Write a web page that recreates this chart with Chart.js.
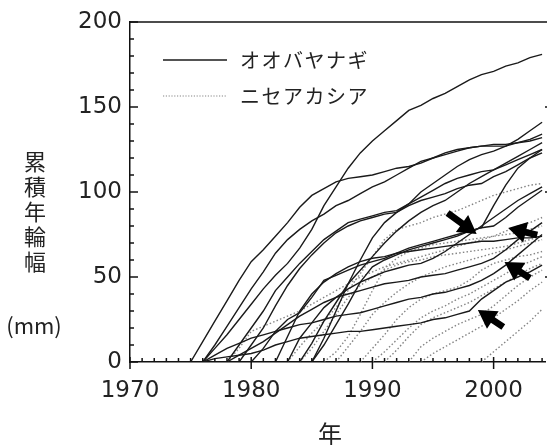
<!DOCTYPE html>
<html>
<head>
<meta charset="utf-8">
<title>累積年輪幅</title>
<script src="https://cdn.jsdelivr.net/npm/chart.js"></script>
<style>
  html, body { margin: 0; padding: 0; background: #fff; }
  #wrap { width: 547px; height: 445px; }
</style>
</head>
<body>
<div id="wrap"><canvas id="chart" width="547" height="445"></canvas></div>
<script>
// オオバヤナギ: first year of each series, then cumulative ring width (mm) per year
const oobaStart = [1976, 1975, 1976, 1985, 1984, 1985, 1978, 1979, 1980, 1982, 1978, 1983, 1976, 1976];
const ooba1 = [0, 8, 16, 25, 34, 43, 51, 58, 67, 78, 92, 103, 114, 123, 130, 136, 142, 148, 151, 155, 158, 162, 166, 169, 171, 174, 176, 179, 181];
const ooba2 = [0, 12, 24, 36, 48, 59, 66, 74, 82, 91, 98, 102, 106, 108, 109, 110, 112, 114, 115, 117, 120, 123, 125, 126, 127, 127, 127, 129, 131, 134];
const ooba3 = [0, 10, 21, 32, 43, 53, 64, 72, 78, 83, 87, 92, 95, 99, 103, 106, 110, 114, 118, 120, 122, 124, 126, 127, 128, 128, 129, 130, 132];
const ooba4 = [0, 14, 30, 46, 60, 73, 82, 88, 93, 100, 105, 110, 115, 119, 122, 124, 127, 131, 136, 141];
const ooba5 = [0, 11, 24, 35, 46, 54, 62, 70, 77, 83, 88, 92, 95, 100, 105, 109, 113, 117, 121, 125, 129];
const ooba6 = [0, 10, 22, 34, 47, 56, 60, 63, 66, 68, 70, 72, 74, 77, 79, 92, 104, 114, 120, 125];
const ooba7 = [0, 10, 20, 30, 42, 50, 58, 65, 72, 77, 82, 84, 86, 88, 89, 93, 97, 101, 105, 108, 110, 112, 113, 116, 119, 122, 125];
const ooba8 = [0, 10, 20, 33, 45, 55, 63, 70, 76, 80, 83, 85, 87, 88, 92, 95, 97, 99, 102, 104, 105, 109, 112, 116, 120, 123];
const ooba9 = [0, 8, 18, 25, 29, 38, 48, 51, 54, 57, 59, 61, 64, 67, 69, 71, 73, 75, 77, 79, 80, 85, 91, 96, 101];
const ooba10 = [0, 15, 30, 40, 47, 52, 56, 59, 61, 62, 64, 65, 66, 67, 68, 69, 70, 71, 71, 72, 73, 73, 74];
const ooba11 = [0, 4, 8, 12, 17, 22, 27, 31, 35, 38, 40, 42, 44, 46, 47, 48, 50, 51, 52, 54, 56, 58, 61, 66, 72, 77, 82];
const ooba12 = [0, 14, 23, 32, 38, 43, 47, 50, 53, 55, 57, 58, 61, 65, 70, 75, 80, 85, 90, 95, 99, 103];
const ooba13 = [0, 4, 8, 11, 14, 16, 18, 20, 22, 23, 25, 27, 28, 29, 31, 33, 35, 37, 38, 40, 41, 43, 45, 48, 52, 57, 63, 69, 75];
const ooba14 = [0, 2, 3, 4, 5, 7, 10, 12, 14, 15, 16, 17, 18, 18, 19, 20, 21, 22, 23, 25, 26, 28, 30, 37, 42, 47, 50, 53, 57];

// ニセアカシア
const niseStart = [1983, 1978, 1986, 1987, 1989, 1990, 1991, 1993, 1994, 1999, 1984];
const nise1 = [0, 9, 17, 24, 32, 42, 52, 62, 72, 78, 80, 82, 85, 87, 89, 92, 95, 98, 100, 102, 104, 105];
const nise2 = [0, 8, 18, 21, 24, 27, 30, 34, 38, 42, 46, 50, 53, 56, 58, 60, 62, 64, 66, 68, 70, 72, 74, 77, 80, 82, 85];
const nise3 = [0, 6, 15, 28, 42, 55, 61, 65, 67, 69, 70, 71, 72, 73, 74, 75, 76, 78, 80];
const nise4 = [0, 9, 18, 28, 35, 41, 46, 50, 53, 56, 58, 60, 62, 64, 66, 68, 70, 72];
const nise5 = [0, 8, 16, 25, 32, 37, 40, 42, 44, 48, 54, 58, 60, 62, 63, 65];
const nise6 = [0, 6, 13, 20, 26, 30, 33, 37, 40, 44, 48, 52, 56, 59, 62];
const nise7 = [0, 7, 15, 22, 26, 29, 32, 35, 39, 43, 47, 51, 55, 58];
const nise8 = [0, 9, 14, 18, 22, 25, 28, 33, 39, 45, 50, 54];
const nise9 = [0, 5, 9, 13, 17, 21, 26, 31, 36, 42, 47];
const nise10 = [0, 6, 12, 18, 24, 31];
const nise11 = [0, 8, 18, 28, 38, 45, 50, 54, 57, 59, 60, 62, 63, 64, 65, 66, 67, 68, 70, 72, 74];

// arrows: tail and tip as [year, mm]
const arrowTail = [[1996.2, 87.6], [2003.6, 74.7], [2003.0, 49.4], [2000.8, 20.6]];
const arrowTip = [[1998.6, 75.3], [2001.2, 78.8], [2000.9, 58.8], [1998.7, 30.6]];

const xTicks = [1970, 1980, 1990, 2000];
const yTicks = [0, 50, 100, 150, 200];

const oobaSeries = [ooba1, ooba2, ooba3, ooba4, ooba5, ooba6, ooba7, ooba8, ooba9, ooba10, ooba11, ooba12, ooba13, ooba14];
const niseSeries = [nise1, nise2, nise3, nise4, nise5, nise6, nise7, nise8, nise9, nise10, nise11];

const datasets = [];
oobaSeries.forEach((vals, k) => {
  datasets.push({
    label: 'オオバヤナギ',
    data: vals.map((v, i) => ({ x: oobaStart[k] + i, y: v })),
    borderColor: '#1a1a1a', borderWidth: 1.4, pointRadius: 0, tension: 0, fill: false
  });
});
niseSeries.forEach((vals, k) => {
  datasets.push({
    label: 'ニセアカシア',
    data: vals.map((v, i) => ({ x: niseStart[k] + i, y: v })),
    borderColor: '#858585', borderWidth: 1.4, borderDash: [1.5, 2.2], pointRadius: 0, tension: 0, fill: false
  });
});

function seg(ctx, x0, y0, x1, y1) {
  ctx.beginPath(); ctx.moveTo(x0, y0); ctx.lineTo(x1, y1); ctx.stroke();
}

function arrow(ctx, x0, y0, x1, y1) {
  const ang = Math.atan2(y1 - y0, x1 - x0);
  const len = Math.hypot(x1 - x0, y1 - y0);
  const head = 18, hw = 10.5, sw = 3.4;
  ctx.save();
  ctx.translate(x0, y0);
  ctx.rotate(ang);
  ctx.beginPath();
  ctx.moveTo(0, -sw);
  ctx.lineTo(len - head, -sw);
  ctx.lineTo(len - head, -hw);
  ctx.lineTo(len, 0);
  ctx.lineTo(len - head, hw);
  ctx.lineTo(len - head, sw);
  ctx.lineTo(0, sw);
  ctx.closePath();
  ctx.fillStyle = '#000';
  ctx.fill();
  ctx.restore();
}

const decor = {
  id: 'decor',
  afterDraw(chart) {
    const { ctx, chartArea: a, scales: { x, y } } = chart;
    ctx.save();
    ctx.strokeStyle = '#111';
    ctx.lineWidth = 1.5;
    seg(ctx, a.left, a.top, a.right + 2, a.top);
    for (let v = 0; v <= 200; v += 10) {
      const py = y.getPixelForValue(v);
      seg(ctx, a.left, py, a.left + (v % 50 ? 4 : 8), py);
      if (v % 50 === 0 && v > 0 && v < 200) seg(ctx, a.right, py, a.right + 3, py);
    }
    for (let yr = 1970; yr <= 2004; yr++) {
      const px = x.getPixelForValue(yr);
      if (yr % 10) seg(ctx, px, a.bottom, px, a.bottom - 4);
      else seg(ctx, px, a.bottom - 5, px, a.bottom + 7);
    }

    arrowTail.forEach((t, i) => {
      arrow(ctx, x.getPixelForValue(t[0]), y.getPixelForValue(t[1]),
        x.getPixelForValue(arrowTip[i][0]), y.getPixelForValue(arrowTip[i][1]));
    });

    // legend
    ctx.lineWidth = 1.5;
    ctx.strokeStyle = '#1a1a1a';
    seg(ctx, 163, 60, 227, 60);
    ctx.strokeStyle = '#858585';
    ctx.lineWidth = 1.2;
    ctx.setLineDash([1.2, 1.6]);
    seg(ctx, 163, 96, 227, 96);
    ctx.setLineDash([]);
    ctx.fillStyle = '#222';
    ctx.textAlign = 'left';
    ctx.textBaseline = 'middle';
    ctx.font = '20px "Noto Sans CJK JP"';
    ctx.letterSpacing = '1.5px';
    ctx.fillText('オオバヤナギ', 240, 60);
    ctx.fillText('ニセアカシア', 240, 96);
    ctx.letterSpacing = '0px';

    // axis titles
    ctx.textAlign = 'center';
    ctx.font = '22px "Noto Sans CJK JP"';
    [...'累積年輪幅'].forEach((ch, i) => ctx.fillText(ch, 35, 162 + 25 * i));
    ctx.font = '22px "Noto Sans CJK JP"';
    ctx.fillText('(mm)', 34, 326);
    ctx.font = '24px "Noto Sans CJK JP"';
    ctx.fillText('年', 330, 434);
    ctx.restore();
  }
};

new Chart(document.getElementById('chart').getContext('2d'), {
  type: 'line',
  data: { datasets },
  plugins: [decor],
  options: {
    responsive: false,
    animation: false,
    events: [],
    layout: { padding: { left: 0, right: 2, top: 22, bottom: 0 } },
    plugins: { legend: { display: false }, tooltip: { enabled: false } },
    scales: {
      x: {
        type: 'linear', min: 1970, max: 2004.24,
        afterFit: s => { s.height = 83; },
        grid: { display: false, drawTicks: false },
        border: { display: true, color: '#111', width: 1.5 },
        afterBuildTicks: s => { s.ticks = xTicks.map(v => ({ value: v })); },
        ticks: {
          autoSkip: false, maxRotation: 0, padding: 15,
          color: '#222', font: { family: 'DejaVu Sans', size: 23 },
          callback: v => String(v)
        }
      },
      y: {
        type: 'linear', min: 0, max: 200,
        afterFit: s => { s.width = 130; },
        grid: { display: false, drawTicks: false },
        border: { display: true, color: '#111', width: 1.5 },
        afterBuildTicks: s => { s.ticks = yTicks.map(v => ({ value: v })); },
        ticks: {
          padding: 8, color: '#222', font: { family: 'DejaVu Sans', size: 23 },
          callback: v => String(v)
        }
      }
    }
  }
});
</script>
</body>
</html>
